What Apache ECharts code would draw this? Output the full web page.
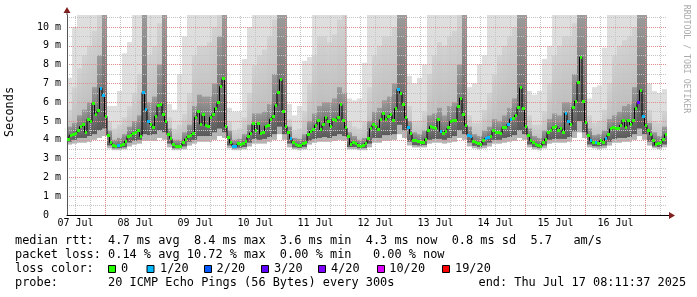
<!DOCTYPE html>
<html>
<head>
<meta charset="utf-8">
<script src="https://cdn.jsdelivr.net/npm/echarts@6.0.0/dist/echarts.min.js"></script>
<style>
html,body{margin:0;padding:0;background:#ffffff;}
#chart{width:697px;height:297px;}
</style>
</head>
<body>
<div id="chart"></div>
<script>
// ---- data (x = hours since 07 Jul 00:00) ----
const startHour = 8.6;
const spanHours = 240;
const yTop = 10.638;

const dayLabels = ['07 Jul','08 Jul','09 Jul','10 Jul','11 Jul','12 Jul','13 Jul','14 Jul','15 Jul','16 Jul'];

// hourly median rtt (ms)
const medianRtt = [
 4.0,4.25,4.3,4.36,4.5,4.7,4.8,4.41,5.1,4.95,5.95,5.37,5.55,6.75,6.33,5.25,4.25,3.85,3.72,3.66,3.68,3.72,3.75,3.92,
 4.18,4.22,4.36,4.41,4.52,4.18,6.52,5.62,4.98,4.84,4.66,5.25,5.81,5.9,5.34,4.98,4.27,4.06,3.74,3.65,3.65,3.65,3.83,4.04,
 4.2,4.22,4.36,5.2,5.5,4.84,5.34,4.77,4.7,5.21,5.37,5.69,5.99,6.84,7.25,4.72,4.1,3.83,3.65,3.65,3.78,3.74,3.8,3.9,
 4.15,4.36,4.86,4.52,4.89,4.31,4.41,4.72,4.77,5.1,5.25,5.81,6.49,7.2,5.52,4.72,4.4,4.06,3.83,3.74,3.72,3.7,3.78,3.83,
 4.3,4.45,4.54,4.77,5.03,4.54,4.8,5.21,4.98,4.72,5.1,5.02,5.2,5.87,5.05,4.63,4.15,3.74,3.88,3.8,3.7,3.65,3.69,3.8,
 4.06,4.6,4.8,4.72,4.54,5.07,5.41,5.07,5.23,5.34,5.02,5.66,6.7,6.47,5.87,5.16,4.63,4.31,3.95,3.95,3.9,3.86,3.85,4.04,
 4.49,4.7,4.63,4.58,5.1,4.45,4.34,4.45,4.63,4.98,5.03,5.02,5.76,6.22,5.37,4.77,4.24,4.15,3.92,3.85,3.78,3.74,3.95,4.06,
 4.1,4.2,4.52,4.41,4.41,4.34,4.66,4.66,4.84,5.1,5.12,5.3,5.73,6.76,5.69,4.72,4.24,3.95,3.83,3.74,3.7,3.65,3.86,4.04,
 4.4,4.49,4.66,4.72,4.49,4.6,4.4,5.41,4.95,4.8,5.73,6.06,7.07,8.4,6.05,4.93,4.24,3.95,3.83,3.86,3.78,3.95,3.88,4.06,
 4.27,4.58,4.63,4.58,4.6,4.77,5.05,4.68,5.03,4.8,5.03,5.69,5.99,6.63,5.23,4.77,4.52,4.27,3.98,3.74,3.8,3.83,4.04,4.27
];

// [hour index, lost pings of 20]
const lossSamples = [[13,1],[14,1],[20,1],[30,1],[31,1],[32,1],[66,1],[67,1],[89,1],[132,1],[136,1],[149,1],
 [160,1],[161,1],[167,1],[168,1],[176,1],[177,1],[199,1],[200,1],[209,1],[211,1],[215,1],[228,3],[230,1]];

// smoke per 2-hour block (ms)
const smokeMin = [
 3.75,3.8,3.85,3.85,3.9,4.0,4.1,4.2,
 3.55,3.45,3.45,3.5,3.65,3.75,3.8,3.95,3.95,3.95,4.1,4.0,
 3.6,3.45,3.45,3.5,3.7,3.8,3.9,3.9,3.9,4.0,4.2,4.1,
 3.55,3.45,3.45,3.5,3.65,3.8,3.8,3.8,3.9,4.0,4.3,4.0,
 3.6,3.5,3.45,3.5,3.75,3.85,3.9,3.9,3.9,3.95,4.0,3.95,
 3.5,3.5,3.45,3.45,3.6,3.85,3.85,3.95,3.95,4.0,4.3,4.1,
 3.7,3.6,3.6,3.6,3.8,3.85,3.85,3.8,3.85,3.9,4.1,4.0,
 3.65,3.55,3.5,3.55,3.65,3.8,3.8,3.85,3.9,3.95,4.1,4.0,
 3.6,3.5,3.45,3.55,3.8,3.85,3.85,3.85,3.9,4.1,4.4,4.1,
 3.6,3.55,3.5,3.55,3.7,3.85,3.85,3.9,3.9,4.0,4.2,4.0,
 3.7,3.55,3.5,3.6
];
const smokeLow = [
 3.9,4.0,4.1,4.1,4.2,4.3,4.5,4.6,
 3.7,3.55,3.55,3.6,3.85,3.95,4.0,4.3,4.25,4.3,4.5,4.4,
 3.8,3.55,3.55,3.65,3.9,4.0,4.2,4.2,4.2,4.4,4.6,4.4,
 3.7,3.55,3.58,3.62,3.85,4.05,4.0,4.05,4.15,4.3,4.7,4.3,
 3.8,3.6,3.57,3.62,3.95,4.05,4.1,4.15,4.1,4.2,4.3,4.2,
 3.62,3.62,3.55,3.57,3.8,4.1,4.1,4.25,4.25,4.3,4.8,4.5,
 3.9,3.72,3.7,3.72,4.0,4.05,4.05,4.0,4.1,4.2,4.5,4.3,
 3.85,3.68,3.62,3.7,3.85,4.0,4.0,4.1,4.15,4.25,4.5,4.3,
 3.75,3.62,3.57,3.7,4.0,4.05,4.05,4.05,4.15,4.45,5.0,4.4,
 3.75,3.66,3.65,3.7,3.9,4.05,4.1,4.1,4.15,4.3,4.6,4.3,
 3.9,3.65,3.62,3.75
];
const smokeMid = [
 4.7,4.9,5.3,5.6,6.0,6.8,8.5,10.7,
 4.5,4.0,4.1,4.3,4.7,5.0,5.3,10.7,6.0,6.3,8.0,10.7,
 4.6,4.0,4.0,4.4,4.8,5.8,6.4,6.3,6.3,7.0,9.5,10.7,
 4.5,4.0,4.05,4.3,4.8,5.4,5.4,5.5,5.9,7.5,10.7,10.7,
 4.7,4.1,4.05,4.3,5.0,5.4,5.8,6.0,6.0,6.2,6.8,6.5,
 4.4,4.2,4.0,4.1,5.0,5.5,5.7,6.1,6.3,7.0,10.7,10.7,
 5.0,4.4,4.3,4.5,5.3,5.4,5.7,5.3,5.8,6.0,8.0,10.7,
 4.7,4.3,4.2,4.5,4.7,5.1,5.0,5.3,5.7,6.2,10.7,10.7,
 4.6,4.2,4.1,4.5,5.1,5.4,5.3,6.0,6.0,7.5,10.7,10.7,
 4.6,4.25,4.3,4.5,5.1,5.3,5.5,5.8,5.9,6.8,10.7,10.7,
 4.9,4.4,4.2,4.7
];
const smokeHigh = [
 5.6,6.8,7.8,8.5,9.0,9.8,10.7,10.7,
 5.0,4.6,4.8,5.2,5.8,6.5,7.5,10.7,8.5,9.0,10.2,10.7,
 5.2,4.6,4.8,5.4,6.5,8.5,9.0,9.0,9.2,10.0,10.7,10.7,
 5.0,4.5,4.6,5.2,6.5,8.0,8.5,8.8,9.5,10.4,10.7,10.7,
 5.1,4.5,4.6,5.5,7.0,8.5,9.5,9.5,9.2,9.6,10.4,10.7,
 5.0,4.7,4.6,5.0,6.8,8.5,9.0,9.5,9.5,10.0,10.7,10.7,
 5.8,5.0,5.0,5.5,7.5,8.5,9.2,9.0,9.5,9.8,10.7,10.7,
 5.3,4.9,4.9,5.6,6.5,7.5,8.5,9.0,9.5,10.0,10.7,10.7,
 5.3,4.8,4.8,5.5,7.0,8.5,9.0,9.5,9.5,10.2,10.7,10.7,
 5.3,4.9,5.0,5.6,7.0,8.5,9.0,9.3,9.5,10.0,10.7,10.7,
 5.6,5.0,4.9,5.5
];
const smokeMax = [
 7.3,10.0,10.7,10.7,10.7,10.7,10.7,10.7,
 5.8,5.8,6.6,8.6,9.2,10.7,10.7,10.7,10.7,10.7,10.7,10.7,
 5.9,5.6,7.5,9.5,10.7,10.7,10.7,10.7,10.7,10.7,10.7,10.7,
 5.7,5.5,5.5,8.3,10.0,10.7,10.7,10.7,10.7,10.7,10.7,10.7,
 5.9,5.3,5.8,8.2,8.4,10.7,10.7,10.7,10.7,10.7,10.7,10.7,
 6.2,6.1,6.2,8.1,10.7,10.7,10.7,10.7,10.7,10.7,10.7,10.7,
 7.4,7.0,7.3,8.0,10.7,10.7,10.7,10.7,10.7,10.7,10.7,10.7,
 6.8,7.0,8.0,8.5,10.7,10.7,10.7,10.7,10.7,10.7,10.7,10.7,
 6.6,6.4,6.6,8.3,9.0,10.7,10.7,10.7,10.7,10.7,10.7,10.7,
 6.2,6.8,6.9,8.9,10.7,10.7,10.7,10.7,10.7,10.7,10.7,10.7,
 7.0,6.6,6.5,6.7
];

const lossLevels = [0,1,2,3,4,10,19];
const lossLabels = ['0','1/20','2/20','3/20','4/20','10/20','19/20'];
const lossColors = ['#26ff00','#00b8ff','#0059ff','#5e00ff','#7e00ff','#dd00ff','#ff0000'];

const statRows = [
 'median rtt:  4.7 ms avg  8.4 ms max  3.6 ms min  4.3 ms now  0.8 ms sd  5.7   am/s',
 'packet loss: 0.14 % avg 10.72 % max  0.00 % min   0.00 % now',
 'loss color:',
 'probe:       20 ICMP Echo Pings (56 Bytes) every 300s'
];
const endText = 'end: Thu Jul 17 08:11:37 2025';
const sideText = 'RRDTOOL / TOBI OETIKER';
const yTitle = 'Seconds';

// ---- layout / style ----
const MONO = '"DejaVu Sans Mono", "Liberation Mono", monospace';
const majorGrid = '#e28c8c';
const minorGrid = '#c4c4c4';
const arrowColor = '#7f1f1f';
const legendFont = 11.9;
const rowY = [241, 255, 269, 283];
const lossBoxX = [108.5, 147, 204.5, 261.5, 318.5, 377.5, 442.5];
const lossTextX = [121, 160, 216.6, 274, 331, 389.3, 455];

function lossColor(n) {
  let c = lossColors[0];
  for (let k = 0; k < lossLevels.length; k++) if (n >= lossLevels[k]) c = lossColors[k];
  return c;
}
const lossAt = medianRtt.map(() => 0);
lossSamples.forEach(([i, n]) => { lossAt[i] = n; });

function grad(top, bottom) {
  return new echarts.graphic.LinearGradient(0, 0, 0, 1, [{ offset: 0, color: top }, { offset: 1, color: bottom }]);
}

function bandSeries(lo, hi, fillTop, fillBottom) {
  return {
    type: 'custom', z: 2, silent: true, animation: false,
    data: lo.map((v, j) => [startHour + 2 * j, v, hi[j]]),
    renderItem: (params, api) => {
      const cs = params.coordSys;
      const t = api.value(0);
      const a = api.coord([t, api.value(2)]);
      const b = api.coord([t + 2, api.value(1)]);
      const x0 = Math.round(a[0]), x1 = Math.round(b[0]);
      const y0 = Math.max(cs.y, a[1]);
      const y1 = Math.min(cs.y + cs.height, b[1]);
      return { type: 'rect', shape: { x: x0, y: y0, width: x1 - x0, height: Math.max(0, y1 - y0) },
               style: { fill: fillBottom ? grad(fillTop, fillBottom) : fillTop } };
    }
  };
}

const xGrid = [];
for (let h = 12; h < startHour + spanHours; h += 6) {
  xGrid.push({ xAxis: h, lineStyle: { color: h % 24 === 0 ? majorGrid : minorGrid, type: [1, 1], width: 1 } });
}
const labelHours = dayLabels.map((_, k) => 12 + 24 * k);

const medianPts = medianRtt.map((v, i) => [startHour + i + 0.5, v, lossAt[i]]);

const graphics = [];
graphics.push({ type: 'line', shape: { x1: 67, y1: 15, x2: 67, y2: 11 }, style: { stroke: '#555', lineWidth: 1 }, z: 20 });
graphics.push({ type: 'polygon', shape: { points: [[63.5, 13], [70.5, 13], [67, 7]] }, style: { fill: arrowColor }, z: 21 });
graphics.push({ type: 'line', shape: { x1: 667, y1: 215.5, x2: 671, y2: 215.5 }, style: { stroke: '#000', lineWidth: 1 }, z: 20 });
graphics.push({ type: 'polygon', shape: { points: [[669, 212], [669, 219], [675, 215.5]] }, style: { fill: arrowColor }, z: 21 });
graphics.push({ type: 'text', x: 10, y: 112, rotation: Math.PI / 2,
  style: { text: yTitle, fontFamily: MONO, fontSize: legendFont, fill: '#000', align: 'center', verticalAlign: 'middle' } });
graphics.push({ type: 'text', x: 686.5, y: 59, rotation: -Math.PI / 2,
  style: { text: sideText, fontFamily: MONO, fontSize: 8.2, fill: '#aaaaaa', align: 'center', verticalAlign: 'middle' } });
statRows.forEach((s, r) => {
  graphics.push({ type: 'text', x: 15, y: rowY[r],
    style: { text: s, fontFamily: MONO, fontSize: legendFont, fill: '#000', verticalAlign: 'middle' } });
});
graphics.push({ type: 'text', x: 478.5, y: rowY[3],
  style: { text: endText, fontFamily: MONO, fontSize: legendFont, fill: '#000', verticalAlign: 'middle' } });
lossLabels.forEach((lab, k) => {
  graphics.push({ type: 'rect', shape: { x: lossBoxX[k], y: 265.5, width: 7, height: 7 },
    style: { fill: lossColors[k], stroke: '#000', lineWidth: 1 } });
  graphics.push({ type: 'text', x: lossTextX[k], y: rowY[2],
    style: { text: lab, fontFamily: MONO, fontSize: legendFont, fill: '#000', verticalAlign: 'middle' } });
});

const chart = echarts.init(document.getElementById('chart'), null, { renderer: 'canvas' });
chart.setOption({
  animation: false,
  backgroundColor: '#ffffff',
  grid: { left: 67, top: 15, width: 600, height: 200, show: false },
  xAxis: {
    type: 'value', min: startHour, max: startHour + spanHours, z: 6,
    axisLine: { show: true, lineStyle: { color: '#000', width: 1 } },
    axisTick: { show: false },
    splitLine: { show: false },
    axisLabel: {
      customValues: labelHours,
      formatter: v => dayLabels[Math.round((v - 12) / 24)] || '',
      fontFamily: MONO, fontSize: 10, color: '#000', margin: 3
    }
  },
  yAxis: [
    {
      type: 'value', min: 0, max: yTop, interval: 1, z: 4,
      axisLine: { show: true, lineStyle: { color: '#555', width: 1 } },
      axisTick: { show: false },
      axisLabel: { formatter: v => v === 0 ? '0  ' : v + ' m', showMaxLabel: false,
                   fontFamily: MONO, fontSize: 10, color: '#000', margin: 6 },
      splitLine: { show: true, showMinLine: false, showMaxLine: false, lineStyle: { color: majorGrid, type: [1, 1], width: 1 } }
    },
    {
      type: 'value', min: 0, max: yTop, interval: 0.5, z: 3, position: 'left',
      axisLine: { show: false }, axisTick: { show: false }, axisLabel: { show: false },
      splitLine: { show: true, showMinLine: false, showMaxLine: false, lineStyle: { color: minorGrid, type: [1, 1], width: 1 } }
    }
  ],
  graphic: graphics,
  series: [
    bandSeries(smokeMin, smokeMax, '#dedede'),
    bandSeries(smokeMin, smokeHigh, '#d2d2d2', '#b4b4b4'),
    bandSeries(smokeLow, smokeMid, '#9c9c9c', '#5a5a5a'),
    {
      type: 'line', data: [], z: 3, silent: true,
      markLine: { silent: true, animation: false, symbol: ['none', 'none'], label: { show: false }, data: xGrid }
    },
    {
      type: 'line', data: medianPts.map(p => [p[0], p[1]]), step: 'middle', symbol: 'none', silent: true, z: 5,
      lineStyle: { color: '#000', width: 1 }
    },
    {
      type: 'custom', z: 6, silent: true, data: medianPts,
      renderItem: (params, api) => {
        const t = api.value(0), v = api.value(1);
        const a = api.coord([t - 0.5, v]);
        const b = api.coord([t + 0.5, v]);
        const x0 = Math.round(a[0]), x1 = Math.round(b[0]);
        return { type: 'rect', shape: { x: x0, y: Math.round(a[1] - 1.5), width: Math.max(2, x1 - x0), height: 3 },
                 style: { fill: lossColor(api.value(2)) } };
      }
    }
  ]
});
</script>
</body>
</html>
